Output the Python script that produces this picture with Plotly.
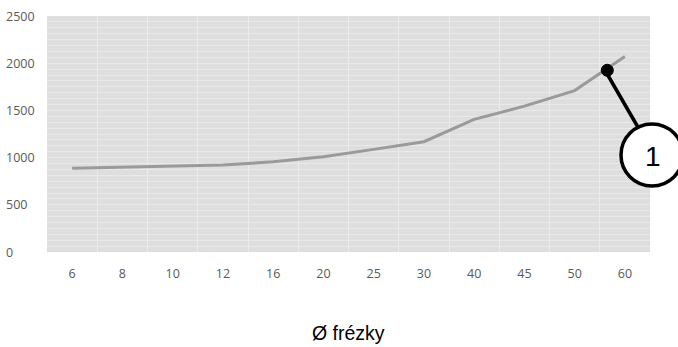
import plotly.graph_objects as go

# ---- data ----
categories = ["6", "8", "10", "12", "16", "20", "25", "30", "40", "45", "50", "60"]
values = [888, 900, 910, 922, 955, 1008, 1087, 1168, 1405, 1545, 1710, 2070]
y_ticks = [0, 500, 1000, 1500, 2000, 2500]
x_title = "Ø frézky"
callout_label = "1"
callout_pos = 10.65      # category-index position of the callout marker
callout_value = 1925     # value at the callout marker

fig = go.Figure()
fig.add_trace(go.Scatter(
    x=categories, y=values, mode="lines",
    line=dict(color="#9a9a9a", width=3),
    hoverinfo="skip", showlegend=False,
))

# marker dot on line
fig.add_shape(type="circle", xref="x", yref="y",
              xsizemode="pixel", ysizemode="pixel",
              xanchor=callout_pos, yanchor=callout_value,
              x0=-6, x1=6, y0=-6, y1=6,
              fillcolor="black", line=dict(color="black", width=1))
# leader line (paper coords)
L, R, T, B = 47, 650, 16, 252
def px(x): return (x - L) / (R - L)
def py(y): return (B - y) / (B - T)
fig.add_shape(type="line", xref="paper", yref="paper",
              x0=px(606), y0=py(72), x1=px(639), y1=py(129),
              line=dict(color="black", width=3.5))
# callout circle
fig.add_shape(type="circle", xref="paper", yref="paper",
              xsizemode="pixel", ysizemode="pixel",
              xanchor=px(652), yanchor=py(155),
              x0=-31, x1=31, y0=-31, y1=31,
              fillcolor="white", line=dict(color="black", width=3.5))
fig.add_annotation(xref="paper", yref="paper", x=px(653), y=py(156),
                   text=callout_label, showarrow=False,
                   font=dict(family="Liberation Sans", size=28, color="black"),
                   xanchor="center", yanchor="middle")

# left-aligned y tick labels
for v in y_ticks:
    fig.add_annotation(xref="paper", yref="y", x=px(4), y=v, text=str(v),
                       showarrow=False, xanchor="left", yanchor="middle",
                       font=dict(family="Open Sans", size=12.5, color="#595959"))

# x axis title
fig.add_annotation(xref="paper", yref="paper", x=px(348), y=py(333),
                   text=x_title, showarrow=False, xanchor="center", yanchor="middle",
                   font=dict(family="Liberation Sans", size=19.5, color="black"))

fig.update_layout(
    width=678, height=347,
    margin=dict(l=L, r=678 - R, t=T, b=347 - B),
    paper_bgcolor="white",
    plot_bgcolor="#dedede",
    showlegend=False,
    xaxis=dict(
        type="category", categoryorder="array", categoryarray=categories,
        range=[-0.5, len(categories) - 0.5],
        tickson="boundaries", showgrid=True, gridcolor="#ebebeb", gridwidth=1,
        ticks="", ticklabelstandoff=12,
        tickfont=dict(family="Open Sans", size=12.5, color="#595959"),
        showline=False, zeroline=False, fixedrange=True,
    ),
    yaxis=dict(
        range=[0, 2500], tickvals=y_ticks, showticklabels=False,
        showgrid=True, gridcolor="#e9e9e9", gridwidth=1,
        minor=dict(dtick=62.5, showgrid=True, gridcolor="#e9e9e9", gridwidth=1),
        zeroline=False, showline=False, fixedrange=True,
    ),
)

fig.write_html("out.html", config={"displayModeBar": False},
               post_script="document.body.style.margin='0';document.body.style.padding='0';")
